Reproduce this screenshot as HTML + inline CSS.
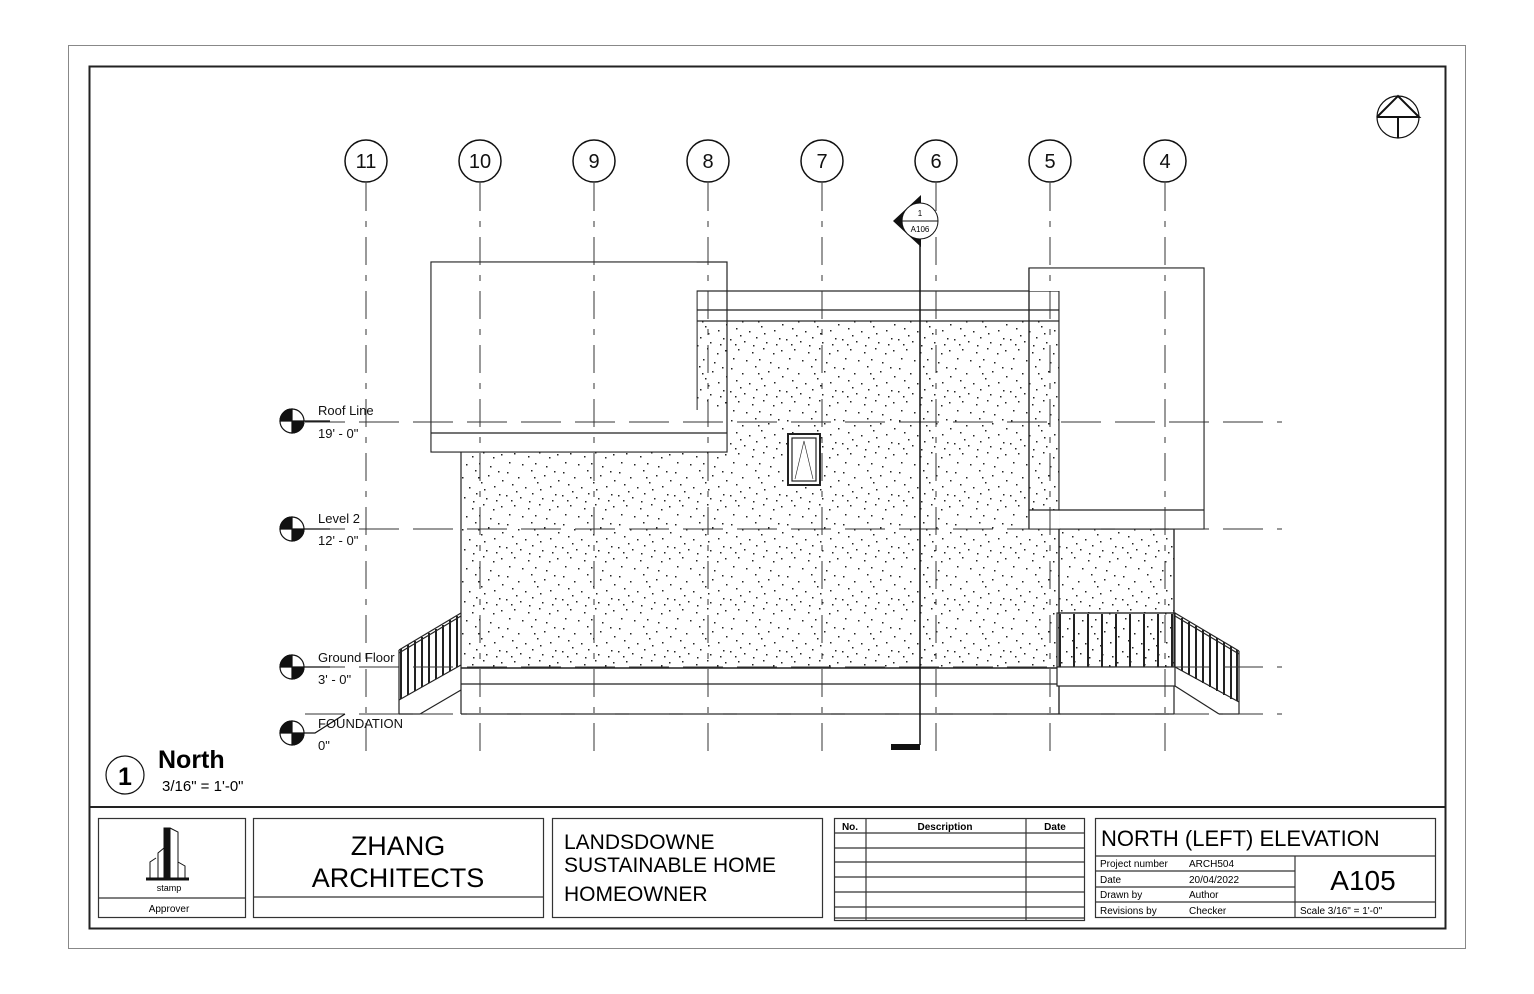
<!DOCTYPE html>
<html><head><meta charset="utf-8"><style>
html,body{margin:0;padding:0;background:#fff;}
svg{display:block;font-family:"Liberation Sans",Arial,sans-serif;}
</style></head><body>
<svg width="1534" height="994" viewBox="0 0 1534 994" xmlns="http://www.w3.org/2000/svg">
<defs>
<pattern id="st" width="56" height="52" patternUnits="userSpaceOnUse">
<g fill="#222">
<rect x="3" y="4" width="1.5" height="1.5"/><rect x="14" y="9" width="1.5" height="1.5"/><rect x="27" y="2" width="1.5" height="1.5"/><rect x="40" y="7" width="1.5" height="1.5"/><rect x="50" y="3" width="1.5" height="1.5"/>
<rect x="8" y="16" width="1.5" height="1.5"/><rect x="21" y="19" width="1.5" height="1.5"/><rect x="33" y="14" width="1.5" height="1.5"/><rect x="46" y="18" width="1.5" height="1.5"/><rect x="54" y="12" width="1.5" height="1.5"/>
<rect x="2" y="27" width="1.5" height="1.5"/><rect x="16" y="29" width="1.5" height="1.5"/><rect x="28" y="25" width="1.5" height="1.5"/><rect x="38" y="30" width="1.5" height="1.5"/><rect x="51" y="26" width="1.5" height="1.5"/>
<rect x="10" y="37" width="1.5" height="1.5"/><rect x="24" y="40" width="1.5" height="1.5"/><rect x="35" y="36" width="1.5" height="1.5"/><rect x="45" y="41" width="1.5" height="1.5"/><rect x="5" y="46" width="1.5" height="1.5"/>
<rect x="18" y="48" width="1.5" height="1.5"/><rect x="31" y="47" width="1.5" height="1.5"/><rect x="42" y="50" width="1.5" height="1.5"/><rect x="53" y="38" width="1.5" height="1.5"/><rect x="12" y="23" width="1.5" height="1.5"/>
<rect x="36" y="21" width="1.5" height="1.5"/><rect x="25" y="33" width="1.5" height="1.5"/><rect x="48" y="32" width="1.5" height="1.5"/><rect x="7" y="32" width="1.5" height="1.5"/><rect x="30" y="9" width="1.5" height="1.5"/>
</g></pattern>
</defs>
<rect x="68.5" y="45.5" width="1397" height="903" fill="none" stroke="#888" stroke-width="1"/>
<rect x="89.5" y="66.5" width="1356" height="862" fill="none" stroke="#222" stroke-width="2"/>
<line x1="89" y1="807" x2="1445" y2="807" stroke="#222" stroke-width="2"/>

<g stroke="#222" stroke-width="1.2">
<rect x="697" y="321" width="362" height="347" fill="url(#st)" stroke="none"/>
<rect x="461" y="452" width="598" height="216" fill="url(#st)" stroke="none"/>
<rect x="697" y="410" width="30" height="42" fill="#fff" stroke="none"/>
<line x1="697" y1="321" x2="697" y2="410"/>
<line x1="1059" y1="321" x2="1059" y2="668"/>
<line x1="461" y1="452" x2="461" y2="714"/>
<rect x="1059" y="529" width="115" height="84" fill="url(#st)"/>
<line x1="1174" y1="529" x2="1174" y2="714"/>
<line x1="461" y1="668" x2="1059" y2="668" stroke-width="1.5"/>
<line x1="461" y1="684" x2="1059" y2="684"/>
<line x1="461" y1="714" x2="1059" y2="714"/>
<line x1="1059" y1="684" x2="1059" y2="714"/>
<rect x="697" y="291" width="362" height="30" fill="#fff"/>
<line x1="697" y1="310" x2="1059" y2="310"/>
<rect x="431" y="262" width="296" height="190" fill="none"/>
<rect x="431.6" y="262.6" width="265" height="188.8" fill="#fff" stroke="none"/>
<rect x="697" y="433" width="29.4" height="18.4" fill="#fff" stroke="none"/>
<line x1="431" y1="433" x2="727" y2="433"/>
<rect x="1029" y="268" width="175" height="261" fill="none"/>
<rect x="1059.6" y="268.6" width="143.8" height="259.8" fill="#fff" stroke="none"/>
<rect x="1029.6" y="268.6" width="30" height="22.4" fill="#fff" stroke="none"/>
<rect x="1029.6" y="510.6" width="30" height="18" fill="#fff" stroke="none"/>
<line x1="1029" y1="510" x2="1204" y2="510"/>
<line x1="1029" y1="268" x2="1029" y2="529"/>
<rect x="788" y="434" width="32" height="51" fill="#fff" stroke-width="2"/>
<rect x="792" y="438" width="24" height="43" fill="none"/>
<polyline points="795,479 804,441 813,479" fill="none" stroke-width="0.6"/>
<rect x="1057" y="613" width="118" height="54" fill="url(#st)"/>
<rect x="1057" y="667" width="118" height="19" fill="#fff"/>
<line x1="1059" y1="686" x2="1059" y2="714"/>
<line x1="1059" y1="714" x2="1174" y2="714"/>
<g stroke-width="2">
<line x1="1060" y1="614" x2="1060" y2="667"/><line x1="1074" y1="614" x2="1074" y2="667"/><line x1="1088" y1="614" x2="1088" y2="667"/><line x1="1102" y1="614" x2="1102" y2="667"/><line x1="1116" y1="614" x2="1116" y2="667"/><line x1="1130" y1="614" x2="1130" y2="667"/><line x1="1144" y1="614" x2="1144" y2="667"/><line x1="1158" y1="614" x2="1158" y2="667"/><line x1="1172" y1="614" x2="1172" y2="667"/>
</g>
<line x1="1175" y1="613" x2="1239" y2="651"/><line x1="1175" y1="616" x2="1239" y2="654"/>
<line x1="1175" y1="667" x2="1239" y2="702"/>
<line x1="1175" y1="686" x2="1219" y2="714"/>
<line x1="1219" y1="714" x2="1239" y2="714"/>
<line x1="1239" y1="651" x2="1239" y2="714"/>
<g stroke-width="2">
<line x1="1182" y1="618" x2="1182" y2="671"/><line x1="1189" y1="622" x2="1189" y2="675"/><line x1="1196" y1="626" x2="1196" y2="679"/><line x1="1203" y1="630" x2="1203" y2="683"/><line x1="1210" y1="634" x2="1210" y2="687"/><line x1="1217" y1="638" x2="1217" y2="691"/><line x1="1224" y1="642" x2="1224" y2="695"/><line x1="1231" y1="646" x2="1231" y2="699"/><line x1="1237" y1="650" x2="1237" y2="701"/>
</g>
<line x1="399" y1="650" x2="461" y2="613"/><line x1="399" y1="653" x2="461" y2="616"/>
<line x1="399" y1="700" x2="461" y2="665"/>
<line x1="420" y1="714" x2="461" y2="690"/>
<line x1="399" y1="700" x2="399" y2="714"/>
<line x1="399" y1="714" x2="420" y2="714"/>
<line x1="399" y1="650" x2="399" y2="700"/>
<g stroke-width="2">
<line x1="401" y1="649" x2="401" y2="699"/><line x1="408" y1="645" x2="408" y2="695"/><line x1="415" y1="641" x2="415" y2="691"/><line x1="422" y1="637" x2="422" y2="687"/><line x1="429" y1="633" x2="429" y2="683"/><line x1="436" y1="629" x2="436" y2="679"/><line x1="443" y1="625" x2="443" y2="675"/><line x1="450" y1="620" x2="450" y2="671"/><line x1="457" y1="616" x2="457" y2="667"/>
</g>
</g>

<g stroke="#333" stroke-width="1" stroke-dasharray="40,14">
<line x1="305" y1="422" x2="1282" y2="422"/>
<line x1="305" y1="529" x2="1282" y2="529"/>
<line x1="305" y1="667" x2="1282" y2="667"/>
<line x1="305" y1="714" x2="1282" y2="714"/>
</g>
<g stroke="#333" stroke-width="1" stroke-dasharray="28,10,6,10">
<line x1="366" y1="183" x2="366" y2="757"/><line x1="480" y1="183" x2="480" y2="757"/><line x1="594" y1="183" x2="594" y2="757"/><line x1="708" y1="183" x2="708" y2="757"/><line x1="822" y1="183" x2="822" y2="757"/><line x1="936" y1="183" x2="936" y2="757"/><line x1="1050" y1="183" x2="1050" y2="757"/><line x1="1165" y1="183" x2="1165" y2="757"/>
</g>
<g fill="#fff" stroke="#111" stroke-width="1.5">
<circle cx="366" cy="161" r="21"/><circle cx="480" cy="161" r="21"/><circle cx="594" cy="161" r="21"/><circle cx="708" cy="161" r="21"/><circle cx="822" cy="161" r="21"/><circle cx="936" cy="161" r="21"/><circle cx="1050" cy="161" r="21"/><circle cx="1165" cy="161" r="21"/>
</g>
<g font-size="20" text-anchor="middle" fill="#111">
<text x="366" y="168">11</text><text x="480" y="168">10</text><text x="594" y="168">9</text><text x="708" y="168">8</text><text x="822" y="168">7</text><text x="936" y="168">6</text><text x="1050" y="168">5</text><text x="1165" y="168">4</text>
</g>

<line x1="920" y1="236" x2="920" y2="745" stroke="#111" stroke-width="1.5"/>
<rect x="891" y="744" width="29" height="6" fill="#111"/>
<polygon points="893,221 921,195 921,247" fill="#111"/>
<circle cx="920" cy="221" r="18" fill="#fff" stroke="#111" stroke-width="1"/>
<line x1="902" y1="221" x2="938" y2="221" stroke="#111"/>
<text x="920" y="216" font-size="8" text-anchor="middle">1</text>
<text x="920" y="232" font-size="8" text-anchor="middle">A106</text>

<g stroke="#111" stroke-width="1.2">
<g transform="translate(292,421)"><circle r="12" fill="#fff"/><path d="M0,0 V-12 A12,12 0 0 0 -12,0 Z M0,0 V12 A12,12 0 0 0 12,0 Z" fill="#111"/></g>
<g transform="translate(292,529)"><circle r="12" fill="#fff"/><path d="M0,0 V-12 A12,12 0 0 0 -12,0 Z M0,0 V12 A12,12 0 0 0 12,0 Z" fill="#111"/></g>
<g transform="translate(292,667)"><circle r="12" fill="#fff"/><path d="M0,0 V-12 A12,12 0 0 0 -12,0 Z M0,0 V12 A12,12 0 0 0 12,0 Z" fill="#111"/></g>
<g transform="translate(292,733)"><circle r="12" fill="#fff"/><path d="M0,0 V-12 A12,12 0 0 0 -12,0 Z M0,0 V12 A12,12 0 0 0 12,0 Z" fill="#111"/></g>
<line x1="304" y1="421" x2="330" y2="421"/><line x1="304" y1="529" x2="330" y2="529"/><line x1="304" y1="667" x2="330" y2="667"/>
<polyline points="304,733 315,733 345,714" fill="none"/>
</g>
<g font-size="13" fill="#111">
<text x="318" y="415">Roof Line</text><text x="318" y="438">19' - 0"</text>
<text x="318" y="523">Level 2</text><text x="318" y="545">12' - 0"</text>
<text x="318" y="662">Ground Floor</text><text x="318" y="684">3' - 0"</text>
<text x="318" y="728">FOUNDATION</text><text x="318" y="750">0"</text>
</g>

<circle cx="1398" cy="117" r="21" fill="none" stroke="#111" stroke-width="1.2"/>
<polyline points="1377,117 1398,96 1419,117 1377,117" fill="none" stroke="#111" stroke-width="2"/>
<line x1="1398" y1="117" x2="1398" y2="138" stroke="#111" stroke-width="2"/>

<circle cx="125" cy="775" r="19" fill="none" stroke="#111" stroke-width="1.2"/>
<text x="125" y="785" font-size="25" font-weight="bold" text-anchor="middle">1</text>
<text x="158" y="768" font-size="25" font-weight="bold">North</text>
<text x="162" y="791" font-size="15">3/16" = 1'-0"</text>

<g fill="none" stroke="#333" stroke-width="1.2">
<rect x="98.5" y="818.5" width="147" height="99"/><line x1="98" y1="898" x2="245" y2="898"/>
<rect x="253.5" y="818.5" width="290" height="99"/><line x1="253" y1="897" x2="543" y2="897"/>
<rect x="552.5" y="818.5" width="270" height="99"/>
<rect x="834.5" y="818.5" width="250" height="102"/>
<line x1="866" y1="818" x2="866" y2="921"/><line x1="1026" y1="818" x2="1026" y2="921"/>
<line x1="834" y1="833" x2="1084" y2="833"/><line x1="834" y1="848" x2="1084" y2="848"/><line x1="834" y1="862" x2="1084" y2="862"/><line x1="834" y1="877" x2="1084" y2="877"/><line x1="834" y1="892" x2="1084" y2="892"/><line x1="834" y1="907" x2="1084" y2="907"/><line x1="834" y1="918" x2="1084" y2="918"/>
<rect x="1095.5" y="818.5" width="340" height="99"/>
<line x1="1095" y1="856" x2="1435" y2="856"/><line x1="1295" y1="856" x2="1295" y2="918"/>
<line x1="1095" y1="871" x2="1295" y2="871"/><line x1="1095" y1="887" x2="1295" y2="887"/><line x1="1095" y1="902" x2="1435" y2="902"/>
</g>
<g stroke="#111" fill="none" stroke-width="1">
<rect x="164" y="828" width="6" height="50" fill="#111"/>
<polyline points="170,828 178,832 178,878"/>
<polyline points="158,878 158,853 164,848"/>
<polyline points="150,878 150,862 156,858"/>
<polyline points="178,862 185,866 185,878"/>
<line x1="146" y1="879" x2="189" y2="879" stroke-width="3"/>
</g>
<text x="169" y="891" font-size="9" text-anchor="middle">stamp</text>
<text x="169" y="912" font-size="10" text-anchor="middle">Approver</text>
<text x="398" y="855" font-size="27" text-anchor="middle">ZHANG</text>
<text x="398" y="887" font-size="27" text-anchor="middle">ARCHITECTS</text>
<text x="564" y="849" font-size="21">LANDSDOWNE</text>
<text x="564" y="872" font-size="21">SUSTAINABLE HOME</text>
<text x="564" y="901" font-size="21">HOMEOWNER</text>
<g font-size="10" font-weight="bold" text-anchor="middle"><text x="850" y="830">No.</text><text x="945" y="830">Description</text><text x="1055" y="830">Date</text></g>
<text x="1101" y="846" font-size="22">NORTH (LEFT) ELEVATION</text>
<g font-size="10"><text x="1100" y="867">Project number</text><text x="1189" y="867">ARCH504</text>
<text x="1100" y="883">Date</text><text x="1189" y="883">20/04/2022</text>
<text x="1100" y="898">Drawn by</text><text x="1189" y="898">Author</text>
<text x="1100" y="914">Revisions by</text><text x="1189" y="914">Checker</text>
<text x="1300" y="914">Scale  3/16" = 1'-0"</text></g>
<text x="1363" y="890" font-size="28" text-anchor="middle">A105</text>
</svg>
</body></html>
